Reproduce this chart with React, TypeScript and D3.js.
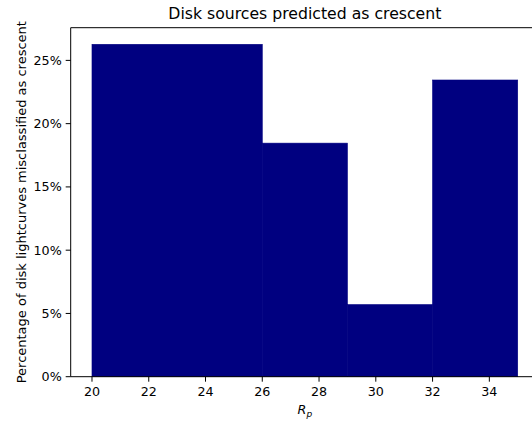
import React from "react";
import * as d3 from "d3";

const binEdges = [20, 26, 29, 32, 35];
const binValues = [26.27, 18.46, 5.7, 23.45];
const xTicks = [20, 22, 24, 26, 28, 30, 32, 34];
const yTicks = [0, 5, 10, 15, 20, 25];
const titleText = "Disk sources predicted as crescent";
const yLabelText = "Percentage of disk lightcurves misclassified as crescent";

const W = 532;
const H = 423;
const plot = { left: 70.7, right: 539, top: 27.7, bottom: 376.7 };
const font = "'DejaVu Sans', sans-serif";

export default function App() {
  const x = d3.scaleLinear().domain([19.25, 35.75]).range([plot.left, plot.right]);
  const yMax = (d3.max(binValues) as number) * 1.05;
  const y = d3.scaleLinear().domain([0, yMax]).range([plot.bottom, plot.top]);
  const bars = binValues.map((v, i) => ({ x0: binEdges[i], x1: binEdges[i + 1], v }));
  return (
    <svg width={W} height={H} style={{ position: "absolute", left: 0, top: 0, background: "#fff" }} fontFamily={font}>
      <rect x={0} y={0} width={W} height={H} fill="#fff" />
      {bars.map((b, i) => (
        <rect key={i} x={x(b.x0)} y={y(b.v)} width={x(b.x1) - x(b.x0)} height={y(0) - y(b.v)} fill="#000080" stroke="#000080" strokeWidth={0.6} />
      ))}
      {/* spines */}
      <line x1={plot.left} x2={plot.left} y1={plot.top} y2={plot.bottom} stroke="#000" strokeWidth={1} />
      <line x1={plot.left} x2={plot.right} y1={plot.bottom} y2={plot.bottom} stroke="#000" strokeWidth={1} />
      <line x1={plot.left} x2={plot.right} y1={plot.top} y2={plot.top} stroke="#000" strokeWidth={1} />
      <line x1={plot.right} x2={plot.right} y1={plot.top} y2={plot.bottom} stroke="#000" strokeWidth={1} />
      {xTicks.map((t) => (
        <g key={t}>
          <line x1={x(t)} x2={x(t)} y1={plot.bottom} y2={plot.bottom + 5} stroke="#000" strokeWidth={1} />
          <text x={x(t)} y={plot.bottom + 19.5} textAnchor="middle" fontSize={12.7} fill="#000">{t}</text>
        </g>
      ))}
      {yTicks.map((t) => (
        <g key={t}>
          <line x1={plot.left - 5} x2={plot.left} y1={y(t)} y2={y(t)} stroke="#000" strokeWidth={1} />
          <text x={plot.left - 9} y={y(t)} dy="0.35em" textAnchor="end" fontSize={12.7} fill="#000">{t}%</text>
        </g>
      ))}
      <text x={(plot.left + plot.right) / 2} y={19} textAnchor="middle" fontSize={15.7} fill="#000">{titleText}</text>
      <text x={(plot.left + plot.right) / 2} y={414} textAnchor="middle" fontSize={12.7} fontStyle="italic" fill="#000">
        R<tspan fontSize={9} dy={3}>p</tspan>
      </text>
      <text transform={`translate(25.5,${(plot.top + plot.bottom) / 2}) rotate(-90)`} textAnchor="middle" fontSize={13} fill="#000">{yLabelText}</text>
    </svg>
  );
}
